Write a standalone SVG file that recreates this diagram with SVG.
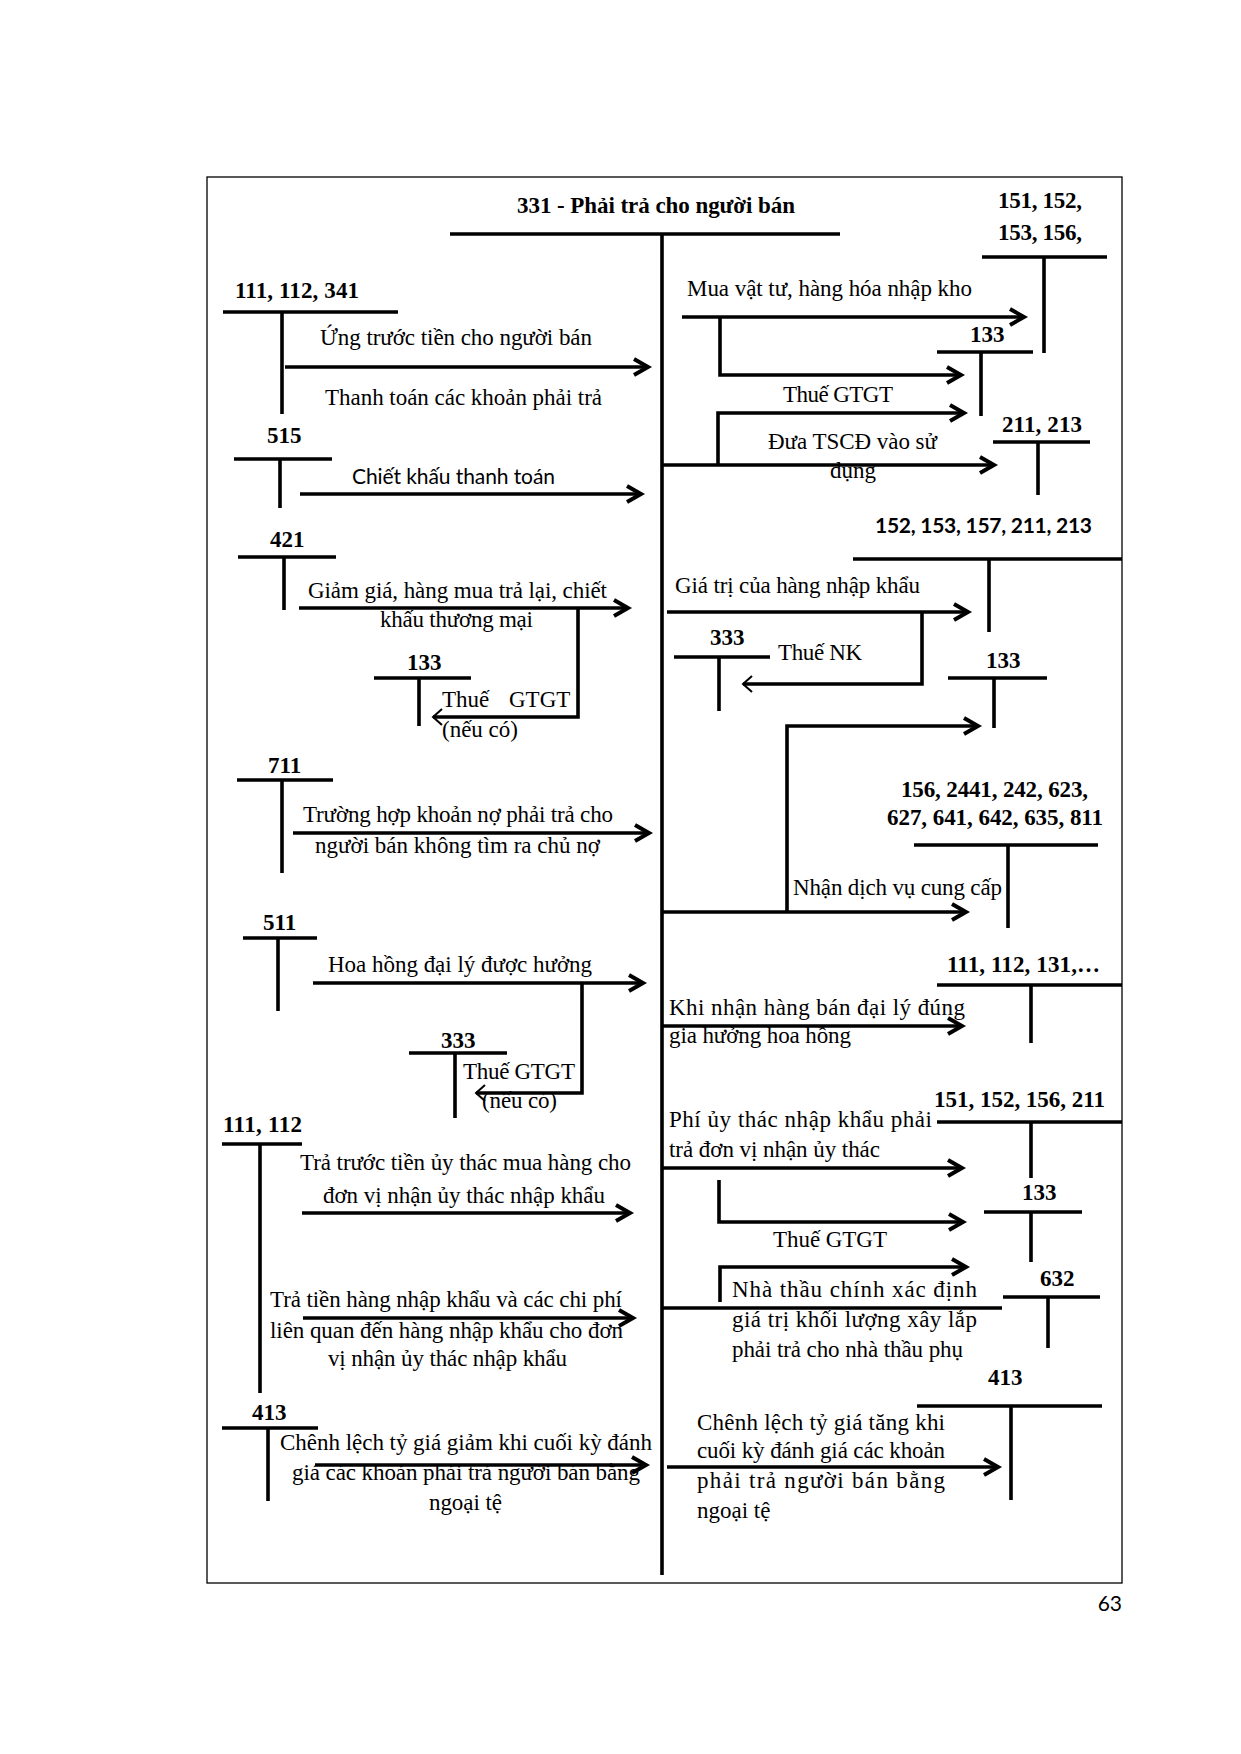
<svg xmlns="http://www.w3.org/2000/svg" width="1241" height="1754" viewBox="0 0 1241 1754">
<style>
.ln{stroke:#000;stroke-width:3.6;fill:none;stroke-linejoin:miter;stroke-linecap:butt}
.t{font-family:"Liberation Serif","Times New Roman",serif;font-size:23px;fill:#000}
.b{font-weight:bold}
.s{font-family:Lato,"Liberation Sans",sans-serif;font-size:21px;fill:#000}
.ar{marker-end:url(#ah)}
.al{marker-end:url(#ahs)}
</style>
<defs>
<marker id="ah" viewBox="0 0 24 20" refX="16" refY="10" markerWidth="24" markerHeight="20" markerUnits="userSpaceOnUse" orient="auto">
<path d="M2,2 L16,10 L2,18" fill="none" stroke="#000" stroke-width="4"/>
</marker>
<marker id="ahs" viewBox="0 0 16 20" refX="11" refY="10" markerWidth="16" markerHeight="20" markerUnits="userSpaceOnUse" orient="auto">
<path d="M2,2 L11,10 L2,18" fill="none" stroke="#000" stroke-width="2"/>
</marker>
</defs>
<rect width="1241" height="1754" fill="#fff"/>
<rect x="207" y="177" width="915" height="1406" fill="none" stroke="#000" stroke-width="1.3"/>

<g id="acc-331">
<text class="t b" x="517" y="213" textLength="278">331 - Phải trả cho người bán</text>
<path class="ln" d="M450,234 H840 M662,234 V1575"/>
</g>

<g id="acc-111-112-341">
<text class="t b" x="235" y="298" textLength="124">111, 112, 341</text>
<path class="ln" d="M223,312 H398 M282,312 V414"/>
</g>
<g id="acc-515">
<text class="t b" x="267" y="443">515</text>
<path class="ln" d="M234,459 H332 M280,459 V508"/>
</g>
<g id="acc-421">
<text class="t b" x="270" y="547">421</text>
<path class="ln" d="M238,557 H336 M284,557 V610"/>
</g>
<g id="acc-133-l">
<text class="t b" x="407" y="670">133</text>
<path class="ln" d="M374,678 H471 M419,678 V726"/>
</g>
<g id="acc-711">
<text class="t b" x="268" y="773">711</text>
<path class="ln" d="M237,780 H333 M282,780 V873"/>
</g>
<g id="acc-511">
<text class="t b" x="263" y="930">511</text>
<path class="ln" d="M243,938 H317 M278,938 V1011"/>
</g>
<g id="acc-333-l">
<text class="t b" x="441" y="1048">333</text>
<path class="ln" d="M409,1053 H507 M455,1053 V1118"/>
</g>
<g id="acc-111-112">
<text class="t b" x="223" y="1132" textLength="79">111, 112</text>
<path class="ln" d="M222,1144 H302 M260,1144 V1393"/>
</g>
<g id="acc-413-l">
<text class="t b" x="252" y="1420">413</text>
<path class="ln" d="M222,1428 H318 M268,1428 V1501"/>
</g>

<g id="acc-151-152-153-156">
<text class="t b" x="998" y="208" textLength="84">151, 152,</text>
<text class="t b" x="998" y="240" textLength="84">153, 156,</text>
<path class="ln" d="M982,257 H1107 M1044,257 V353"/>
</g>
<g id="acc-133-r1">
<text class="t b" x="970" y="342">133</text>
<path class="ln" d="M937,352 H1033 M981,352 V416"/>
</g>
<g id="acc-211-213">
<text class="t b" x="1002" y="432" textLength="80">211, 213</text>
<path class="ln" d="M993,442 H1090 M1038,442 V495"/>
</g>
<g id="acc-152-153-157-211-213">
<text class="s b" x="875" y="533" textLength="217">152, 153, 157, 211, 213</text>
<path class="ln" d="M853,559 H1122 M989,559 V632"/>
</g>
<g id="acc-333-r">
<text class="t b" x="710" y="645">333</text>
<path class="ln" d="M674,657 H770 M719,657 V711"/>
</g>
<g id="acc-133-r2">
<text class="t b" x="986" y="668">133</text>
<path class="ln" d="M948,678 H1047 M994,678 V728"/>
</g>
<g id="acc-156-2441">
<text class="t b" x="901" y="797" textLength="187">156, 2441, 242, 623,</text>
<text class="t b" x="887" y="825" textLength="216">627, 641, 642, 635, 811</text>
<path class="ln" d="M914,845 H1098 M1008,845 V928"/>
</g>
<g id="acc-111-112-131">
<text class="t b" x="947" y="972" textLength="153">111, 112, 131,…</text>
<path class="ln" d="M937,985 H1122 M1031,985 V1043"/>
</g>
<g id="acc-151-152-156-211">
<text class="t b" x="934" y="1107" textLength="171">151, 152, 156, 211</text>
<path class="ln" d="M937,1122 H1122 M1031,1122 V1178"/>
</g>
<g id="acc-133-r3">
<text class="t b" x="1022" y="1200">133</text>
<path class="ln" d="M984,1212 H1082 M1031,1212 V1262"/>
</g>
<g id="acc-632">
<text class="t b" x="1040" y="1286">632</text>
<path class="ln" d="M1003,1297 H1100 M1048,1297 V1348"/>
</g>
<g id="acc-413-r">
<text class="t b" x="988" y="1385">413</text>
<path class="ln" d="M917,1406 H1102 M1011,1406 V1500"/>
</g>

<g id="connectors">
<path class="ln ar" d="M285,367 H648"/>
<path class="ln ar" d="M300,494 H641"/>
<path class="ln ar" d="M299,608 H628"/>
<path class="ln al" d="M578,608 V717 H433"/>
<path class="ln ar" d="M293,833 H649"/>
<path class="ln ar" d="M313,983 H643"/>
<path class="ln al" d="M582,983 V1093 H476"/>
<path class="ln ar" d="M302,1213 H630"/>
<path class="ln ar" d="M303,1318 H633"/>
<path class="ln ar" d="M315,1465 H646"/>

<path class="ln ar" d="M682,317 H1024"/>
<path class="ln ar" d="M720,317 V375 H961"/>
<path class="ln ar" d="M718,465 V413 H964"/>
<path class="ln ar" d="M662,465 H994"/>
<path class="ln ar" d="M667,612 H968"/>
<path class="ln al" d="M922,612 V684 H743"/>
<path class="ln ar" d="M662,912 H966"/>
<path class="ln ar" d="M787,912 V726 H978"/>
<path class="ln ar" d="M662,1026 H962"/>
<path class="ln ar" d="M662,1168 H962"/>
<path class="ln ar" d="M719,1180 V1222 H963"/>
<path class="ln ar" d="M720,1302 V1267 H966"/>
<path class="ln" d="M662,1308 H1002"/>
<path class="ln ar" d="M667,1467 H998"/>
</g>

<g id="edge-labels">
<text class="t" x="320" y="345" textLength="272">Ứng trước tiền cho người bán</text>
<text class="t" x="325" y="405" textLength="277">Thanh toán các khoản phải trả</text>
<text class="s" x="352" y="484" textLength="203">Chiết khấu thanh toán</text>
<text class="t" x="308" y="598" textLength="299">Giảm giá, hàng mua trả lại, chiết</text>
<text class="t" x="380" y="627" textLength="153">khấu thương mại</text>
<text class="t" x="442" y="707">Thuế</text>
<text class="t" x="509" y="707">GTGT</text>
<text class="t" x="442" y="737">(nếu có)</text>
<text class="t" x="303" y="822" textLength="310">Trường hợp khoản nợ phải trả cho</text>
<text class="t" x="315" y="853" textLength="285">người bán không tìm ra chủ nợ</text>
<text class="t" x="328" y="972" textLength="264">Hoa hồng đại lý được hưởng</text>
<text class="t" x="463" y="1079" textLength="112">Thuế GTGT</text>
<text class="t" x="482" y="1108" textLength="75">(nếu có)</text>
<text class="t" x="300" y="1170" textLength="331">Trả trước tiền ủy thác mua hàng cho</text>
<text class="t" x="323" y="1203" textLength="282">đơn vị nhận ủy thác nhập khẩu</text>
<text class="t" x="270" y="1307" textLength="352">Trả tiền hàng nhập khẩu và các chi phí</text>
<text class="t" x="270" y="1338" textLength="353">liên quan đến hàng nhập khẩu cho đơn</text>
<text class="t" x="328" y="1366" textLength="239">vị nhận ủy thác nhập khẩu</text>
<text class="t" x="280" y="1450" textLength="372">Chênh lệch tỷ giá giảm khi cuối kỳ đánh</text>
<text class="t" x="292" y="1480" textLength="348">giá các khoản phải trả người bán bằng</text>
<text class="t" x="429" y="1510" textLength="73">ngoại tệ</text>

<text class="t" x="687" y="296" textLength="285">Mua vật tư, hàng hóa nhập kho</text>
<text class="t" x="783" y="402" textLength="110">Thuế GTGT</text>
<text class="t" x="768" y="449" textLength="169">Đưa TSCĐ vào sử</text>
<text class="t" x="830" y="478">dụng</text>
<text class="t" x="675" y="593" textLength="245">Giá trị của hàng nhập khẩu</text>
<text class="t" x="778" y="660" textLength="84">Thuế NK</text>
<text class="t" x="793" y="895" textLength="209">Nhận dịch vụ cung cấp</text>
<text class="t" x="669" y="1015" textLength="296">Khi nhận hàng bán đại lý đúng</text>
<text class="t" x="669" y="1043" textLength="182">gia hưởng hoa hồng</text>
<text class="t" x="669" y="1127" textLength="263">Phí ủy thác nhập khẩu phải</text>
<text class="t" x="669" y="1157" textLength="211">trả đơn vị nhận ủy thác</text>
<text class="t" x="773" y="1247" textLength="114">Thuế GTGT</text>
<text class="t" x="732" y="1297" textLength="245">Nhà thầu chính xác định</text>
<text class="t" x="732" y="1327" textLength="245">giá trị khối lượng xây lắp</text>
<text class="t" x="732" y="1357" textLength="231">phải trả cho nhà thầu phụ</text>
<text class="t" x="697" y="1430" textLength="248">Chênh lệch tỷ giá tăng khi</text>
<text class="t" x="697" y="1458" textLength="248">cuối kỳ đánh giá các khoản</text>
<text class="t" x="697" y="1488" textLength="248">phải trả người bán bằng</text>
<text class="t" x="697" y="1518">ngoại tệ</text>
</g>

<text class="s" x="1122" y="1611" text-anchor="end" font-size="20">63</text>
</svg>
